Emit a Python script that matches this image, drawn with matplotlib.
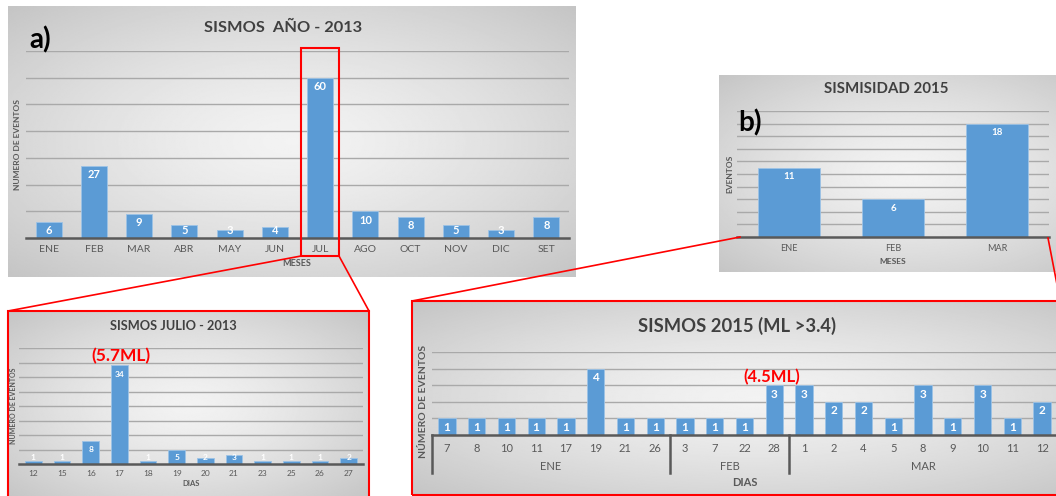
import numpy as np
import matplotlib.pyplot as plt
from matplotlib.patches import Rectangle
from matplotlib.lines import Line2D

plt.rcParams['font.family'] = ['Lato', 'DejaVu Sans']

W, H = 1056, 496

# a) sismos por mes, 2013
meses_2013 = ['ENE', 'FEB', 'MAR', 'ABR', 'MAY', 'JUN', 'JUL', 'AGO', 'OCT', 'NOV', 'DIC', 'SET']
sismos_2013 = [6, 27, 9, 5, 3, 4, 60, 10, 8, 5, 3, 8]

# detalle de julio 2013
dias_julio = ['12', '15', '16', '17', '18', '19', '20', '21', '23', '25', '26', '27']
sismos_julio = [1, 1, 8, 34, 1, 5, 2, 3, 1, 1, 1, 2]

# b) sismicidad 2015 por mes
meses_2015 = ['ENE', 'FEB', 'MAR']
sismos_2015 = [11, 6, 18]

# detalle 2015 (ML > 3.4), por dia
dias_ene = ['7', '8', '10', '11', '17', '19', '21', '26']
sismos_ene = [1, 1, 1, 1, 1, 4, 1, 1]
dias_feb = ['3', '7', '22', '28']
sismos_feb = [1, 1, 1, 3]
dias_mar = ['1', '2', '4', '5', '8', '9', '10', '11', '12']
sismos_mar = [3, 2, 2, 1, 3, 1, 3, 1, 2]

AZUL = '#5b9bd5'
GRIS = '#595959'
TITULO = '#404040'
ROJO = '#ff0000'

fig = plt.figure(figsize=(W / 100, H / 100), dpi=100)


def caja(x0, y0, x1, y1):
    # rectangulo en pixeles (origen arriba a la izquierda) -> coordenadas de figura
    return [x0 / W, 1 - y1 / H, (x1 - x0) / W, (y1 - y0) / H]


def fx(x):
    return x / W


def fy(y):
    return 1 - y / H


def fondo(x0, y0, x1, y1, claro=0.95, oscuro=0.77):
    ax = fig.add_axes(caja(x0, y0, x1, y1), zorder=0)
    yy, xx = np.mgrid[-1:1:200j, -1:1:400j]
    r = np.sqrt(xx ** 2 + yy ** 2) / np.sqrt(2)
    ax.imshow(claro - (claro - oscuro) * r ** 1.4, cmap='gray', vmin=0, vmax=1,
              aspect='auto', extent=[0, 1, 0, 1])
    ax.axis('off')


def barras(x0, y0, x1, y1, valores, etiquetas, ymax, paso, fs_val, fs_tick, pad, ancho=0.58):
    ax = fig.add_axes(caja(x0, y0, x1, y1), zorder=2)
    ax.patch.set_alpha(0)
    x = np.arange(len(valores))
    ax.bar(x, valores, width=ancho, color=AZUL, edgecolor='#9dc3e6', linewidth=0.6, zorder=3)
    ax.set_xlim(-0.5, len(valores) - 0.5)
    ax.set_ylim(0, ymax)
    ax.set_yticks(np.arange(paso, ymax + paso / 2, paso))
    ax.yaxis.grid(True, color='#a9a9a9', lw=1)
    ax.set_axisbelow(True)
    ax.tick_params(axis='y', left=False, labelleft=False)
    ax.set_xticks(x, etiquetas)
    ax.tick_params(axis='x', length=0, labelsize=fs_tick, labelcolor=GRIS, pad=pad)
    for s in ['top', 'right', 'left']:
        ax.spines[s].set_visible(False)
    ax.spines['bottom'].set_color(GRIS)
    ax.spines['bottom'].set_linewidth(1.8)
    ax.spines['bottom'].set_zorder(5)
    px = (y1 - y0) / ymax
    for xi, v in zip(x, valores):
        yl = max(v - 9 / px, 7 / px)
        ax.text(xi, yl, str(v), ha='center', va='center', color='white',
                fontweight='bold', fontsize=fs_val, zorder=4)
    return ax


# fondos con degradado
fondo(8, 6, 576, 277)
fondo(719, 75, 1100, 272)
fondo(8, 311, 369, 500)
fondo(412, 301, 1100, 495)

# a) 2013
barras(26, 51, 569, 238, sismos_2013, meses_2013, 70, 10, 8, 7.5, 5)
fig.text(fx(283), fy(28), 'SISMOS  AÑO - 2013', ha='center', va='center',
         fontsize=11.8, fontweight='bold', color=TITULO)
fig.text(fx(40), fy(40), 'a)', ha='center', va='center', fontsize=20, fontweight='bold', color='black')
fig.text(fx(297), fy(264), 'MESES', ha='center', va='center', fontsize=6.5, fontweight='bold', color=GRIS)
fig.text(fx(18), fy(145), 'NUMERO DE EVENTOS', ha='center', va='center', rotation=90,
         fontsize=6, fontweight='bold', color=GRIS)

# julio 2013
barras(19, 348, 363, 464, sismos_julio, dias_julio, 40, 5, 6, 6, 4)
fig.text(fx(173), fy(326), 'SISMOS JULIO - 2013', ha='center', va='center',
         fontsize=9.2, fontweight='bold', color=TITULO)
fig.text(fx(121), fy(356), '(5.7ML)', ha='center', va='center', fontsize=12.5,
         fontweight='bold', color=ROJO)
fig.text(fx(191), fy(484), 'DIAS', ha='center', va='center', fontsize=5.5, fontweight='bold', color=GRIS)
fig.text(fx(14), fy(406), 'NUMERO DE EVENTOS', ha='center', va='center', rotation=90,
         fontsize=5, fontweight='bold', color=GRIS)

# b) 2015
barras(737, 111, 1049, 237, sismos_2015, meses_2015, 20, 2, 7, 6.5, 5, ancho=0.6)
fig.text(fx(886), fy(89), 'SISMISIDAD 2015', ha='center', va='center',
         fontsize=10.8, fontweight='bold', color=TITULO)
fig.text(fx(750), fy(123), 'b)', ha='center', va='center', fontsize=20, fontweight='bold', color='black')
fig.text(fx(893), fy(261), 'MESES', ha='center', va='center', fontsize=6, fontweight='bold', color=GRIS)
fig.text(fx(730), fy(174), 'EVENTOS', ha='center', va='center', rotation=90,
         fontsize=6, fontweight='bold', color=GRIS)

# detalle 2015 agrupado por mes
grupos = [('ENE', dias_ene, sismos_ene), ('FEB', dias_feb, sismos_feb), ('MAR', dias_mar, sismos_mar)]
dias_2015 = dias_ene + dias_feb + dias_mar
sismos_dias_2015 = sismos_ene + sismos_feb + sismos_mar
axd = barras(432, 352, 1057, 435, sismos_dias_2015, dias_2015, 5, 1, 8.5, 8, 6)
alto = 435 - 352
tr = axd.get_xaxis_transform()
inicio = -0.5
axd.plot([inicio, inicio], [0, -38 / alto], color=GRIS, lw=1.8, transform=tr, clip_on=False)
for mes, dias, _ in grupos:
    fin = inicio + len(dias)
    axd.plot([fin, fin], [0, -38 / alto], color=GRIS, lw=1.8, transform=tr, clip_on=False)
    axd.text((inicio + fin) / 2, -32 / alto, mes, transform=tr, ha='center', va='center',
             fontsize=8, color=GRIS)
    inicio = fin
fig.text(fx(737), fy(326), 'SISMOS 2015 (ML >3.4)', ha='center', va='center',
         fontsize=13.2, fontweight='bold', color=TITULO)
fig.text(fx(772), fy(377), '(4.5ML)', ha='center', va='center', fontsize=12,
         fontweight='bold', color=ROJO)
fig.text(fx(745), fy(482), 'DIAS', ha='center', va='center', fontsize=8, fontweight='bold', color=GRIS)
fig.text(fx(423), fy(401), 'NÚMERO DE EVENTOS', ha='center', va='center', rotation=90,
         fontsize=7.5, fontweight='bold', color=GRIS)

# marcos y lineas de ampliacion
for x0, y0, x1, y1 in [(301, 48, 339, 256), (8, 311, 369, 500), (412, 301, 1100, 495)]:
    fig.patches.append(Rectangle((fx(x0), fy(y1)), fx(x1 - x0), (y1 - y0) / H, fill=False,
                                 edgecolor=ROJO, lw=1.5, transform=fig.transFigure, zorder=10))
for (xa, ya), (xb, yb) in [((301, 256), (8, 311)), ((339, 256), (369, 311)),
                           ((740, 237), (412, 301)), ((1048, 238), (1060, 300))]:
    fig.lines.append(Line2D([fx(xa), fx(xb)], [fy(ya), fy(yb)], color=ROJO, lw=1.2,
                            transform=fig.transFigure, zorder=10))

fig.savefig('out.png', dpi=100)
